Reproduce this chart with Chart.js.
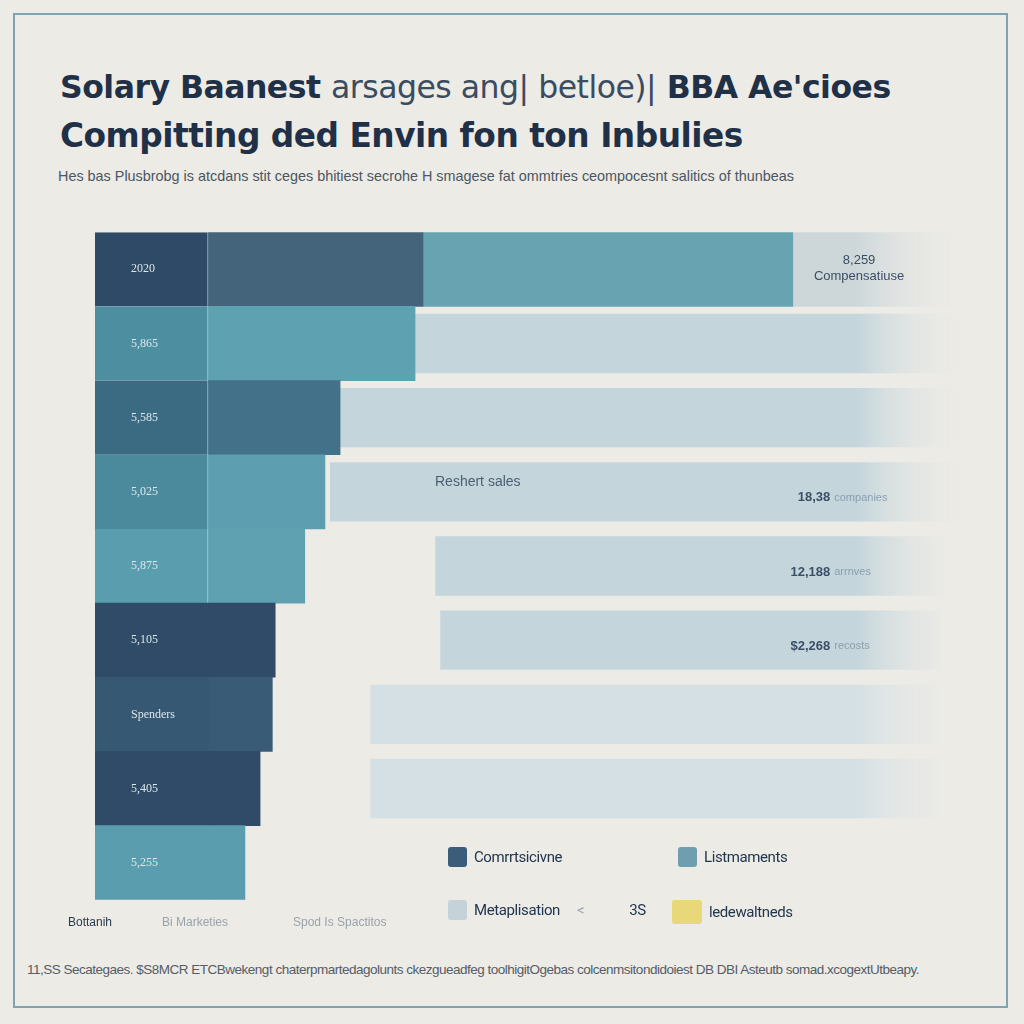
<!DOCTYPE html>
<html>
<head>
<meta charset="utf-8">
<script src="https://cdn.jsdelivr.net/npm/chart.js@4.4.1/dist/chart.umd.min.js"></script>
<style>
  html, body { margin: 0; padding: 0; }
  body { width: 1024px; height: 1024px; background: #ecebe6; position: relative; overflow: hidden; font-family: Inter, "Open Sans", sans-serif; }
  .frame { position: absolute; left: 13px; top: 13px; width: 995px; height: 995px; border: 2px solid #7fa3b0; box-sizing: border-box; }
  .t1, .t2 { position: absolute; left: 60px; color: #1f3047; font-weight: bold; white-space: nowrap; font-family: "DejaVu Sans", sans-serif; letter-spacing: -0.5px; }
  .t1 { top: 69px; font-size: 31.5px; }
  .t1 .lt { font-weight: normal; color: #3a4c60; }
  .t2 { top: 117px; font-size: 32.8px; }
  .sub { position: absolute; left: 58px; top: 168px; font-size: 14.4px; color: #4b5662; white-space: nowrap; font-family: "Liberation Sans", sans-serif; }
  #wrap { position: absolute; left: 23px; top: 189px; width: 937px; height: 754px; }
  .ax { position: absolute; top: 915px; font-size: 12px; font-family: "Liberation Sans", sans-serif; color: #9aa3ab; }
  .legend { position: absolute; font-family: Roboto, sans-serif; font-size: 15px; color: #22364f; display: flex; align-items: center; gap: 7px; letter-spacing: -0.4px; }
  .legend i { display: inline-block; width: 19px; height: 20px; border-radius: 3px; }
  .foot { position: absolute; left: 27px; top: 962px; font-size: 13.5px; color: #555d66; white-space: nowrap; letter-spacing: -0.5px; font-family: "Liberation Sans", sans-serif; }
</style>
</head>
<body>
<div class="frame"></div>
<div class="t1">Solary Baanest <span class="lt">arsages ang| betloe)|</span> BBA Ae'cioes</div>
<div class="t2">Compitting ded Envin fon ton Inbulies</div>
<div class="sub">Hes bas Plusbrobg is atcdans stit ceges bhitiest secrohe H smagese fat ommtries ceompocesnt salitics of thunbeas</div>
<div id="wrap"><canvas id="salaryChart"></canvas></div>
<div class="ax" style="left:68px;color:#2a3a4e">Bottanih</div>
<div class="ax" style="left:162px">Bi Marketies</div>
<div class="ax" style="left:293px">Spod Is Spactitos</div>
<div class="legend" style="left:448px;top:847px"><i style="background:#3b5d7a"></i>Comrrtsicivne</div>
<div class="legend" style="left:678px;top:847px"><i style="background:#6f9fae"></i>Listmaments</div>
<div class="legend" style="left:448px;top:900px"><i style="background:#c4d3da"></i>Metaplisation <span style="color:#9aa3ab;margin-left:10px">&lt;</span><span style="margin-left:38px">3S</span></div>
<div class="legend" style="left:672px;top:900px"><i style="background:#e9d87a;width:30px;height:24px"></i>ledewaltneds</div>
<div class="foot">11,SS Secategaes. $S8MCR ETCBwekengt chaterpmartedagolunts ckezgueadfeg toolhigitOgebas colcenmsitondidoiest DB DBI Asteutb somad.xcogextUtbeapy.</div>

<script>
// rows (top to bottom) and their inner labels
const rowLabels = ['2020', '5,865', '5,585', '5,025', '5,875', '5,105', 'Spenders', '5,405', '5,255'];

// salary segments, in $k
const baseEnd = [15.7, 15.7, 15.7, 15.7, 15.7, 15.7, 15.7, 15.7, 15.7];
const compEnd = [45.5, 44.4, 34.0, 31.9, 29.1, 25.0, 24.6, 22.9, 20.8];
const listEnd = [96.8, null, null, null, null, null, null, null, null];
const greyEnd = [120, null, null, null, null, null, null, null, null];
const marketStart = [null, 44.4, 34.0, 32.6, 47.2, 47.9, 38.2, 38.2, null];
const marketEnd = [null, 120, 120, 120, 117.9, 117.2, 117.0, 117.0, null];

// notes written on the right side of the rows
const leftNotes = ['', '', '', 'Reshert sales', '', '', '', '', ''];
const rightNotes = ['8,259', '', '', '18,38', '12,188', '$2,268', '', '', ''];
const rightSub = ['Compensatiuse', '', '', 'companies', 'arrnves', 'recosts', '', '', ''];

const baseColors = ['#2e4a66', '#4d8ea0', '#3b6b83', '#4b8a9d', '#5a9dae', '#2f4b67', '#365873', '#2f4b67', '#5a9dae'];
const compColors = ['#44647b', '#5ea1b1', '#43718a', '#5d9fb0', '#5fa1b1', '#2f4b67', '#3a5b76', '#2f4b67', '#5a9dae'];

const pairs = (a, b) => a.map((v, i) => (v == null || b[i] == null) ? null : [v, b[i]]);

function fadeFill(ctx, color) {
    const area = ctx.chart.chartArea;
    if (!area) return color;
    const g = ctx.chart.ctx.createLinearGradient(area.left, 0, area.right, 0);
    g.addColorStop(0, color);
    g.addColorStop(0.88, color);
    g.addColorStop(1, 'rgba(236,235,230,0.2)');
    return g;
}

const notesPlugin = {
    id: 'notes',
    afterDatasetsDraw(chart) {
        const c = chart.ctx;
        const xs = chart.scales.x;
        chart.getDatasetMeta(0).data.forEach((bar, i) => {
            c.save();
            c.textBaseline = 'middle';
            if (leftNotes[i]) {
                c.font = '14px "Liberation Sans", sans-serif';
                c.fillStyle = '#4a5f75';
                c.textAlign = 'left';
                c.fillText(leftNotes[i], xs.getPixelForValue(marketStart[i]) + 105, bar.y - 10);
            }
            if (rightNotes[i]) {
                const x = xs.getPixelForValue(i === 0 ? 106 : 102);
                if (i === 0) {
                    c.textAlign = 'center';
                    c.font = '13px "Liberation Sans", sans-serif';
                    c.fillStyle = '#3b4e63';
                    c.fillText(rightNotes[i], x, bar.y - 9);
                    c.fillText(rightSub[i], x, bar.y + 7);
                } else {
                    c.textAlign = 'right';
                    c.font = 'bold 13px "Liberation Sans", sans-serif';
                    c.fillStyle = '#3b5068';
                    c.fillText(rightNotes[i], x, bar.y + 6);
                    c.textAlign = 'left';
                    c.font = '11px "Liberation Sans", sans-serif';
                    c.fillStyle = '#8aa0b0';
                    c.fillText(rightSub[i], x + 4, bar.y + 6);
                }
            }
            c.restore();
        });
    }
};

const ctx = document.getElementById('salaryChart').getContext('2d');
let salaryChart = new Chart(ctx, {
    type: 'bar',
    data: {
        labels: rowLabels,
        datasets: [
            {
                label: 'Base', data: rowLabels.map((_, i) => [0, baseEnd[i]]), backgroundColor: baseColors,
                borderColor: 'rgba(190,215,225,0.45)', borderWidth: c => c.dataIndex < 5 ? { right: 1 } : 0,
                borderSkipped: false, barPercentage: 1, categoryPercentage: 1
            },
            { label: 'Compensation', data: pairs(baseEnd, compEnd), backgroundColor: compColors, barPercentage: 1, categoryPercentage: 1 },
            { label: 'Listmaments', data: pairs(compEnd, listEnd), backgroundColor: '#67a3b1', barPercentage: 1, categoryPercentage: 1 },
            { label: 'Grey', data: pairs(listEnd, greyEnd), backgroundColor: c => fadeFill(c, '#cdd7da'), barPercentage: 1, categoryPercentage: 1 },
            { label: 'Market', data: pairs(marketStart, marketEnd), backgroundColor: c => fadeFill(c, c.dataIndex > 5 ? '#d5e0e4' : '#c4d5dc'), barPercentage: 0.8, categoryPercentage: 1 }
        ]
    },
    options: {
        indexAxis: 'y',
        responsive: true,
        maintainAspectRatio: false,
        animation: false,
        grouped: false,
        layout: { padding: 0 },
        plugins: { legend: { display: false }, tooltip: { enabled: false } },
        scales: {
            x: { display: false, min: 0, max: 120 },
            y: {
                border: { display: false },
                grid: { display: false, drawTicks: false },
                ticks: { z: 1, mirror: true, padding: 36, color: '#dbe6eb', font: { size: 12, family: '"Liberation Serif", serif' } }
            }
        }
    },
    plugins: [notesPlugin]
});
</script>
</body>
</html>
